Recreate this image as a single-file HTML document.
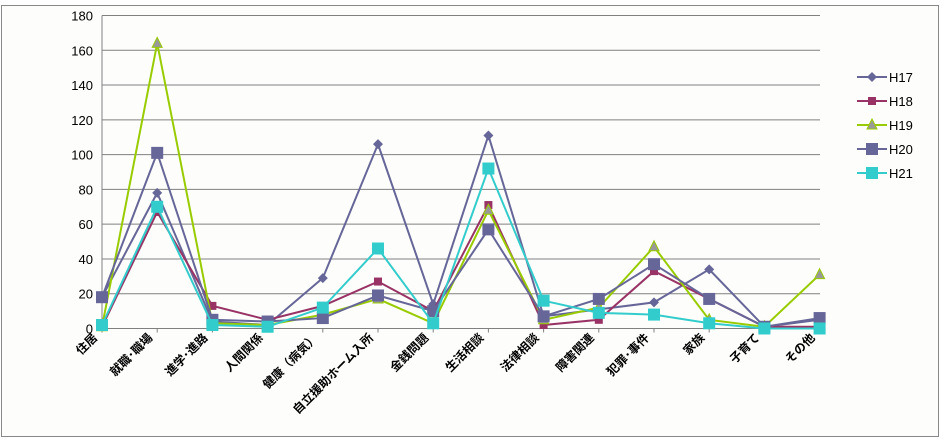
<!DOCTYPE html>
<html><head><meta charset="utf-8"><style>
body{margin:0;background:#fff;}
svg{display:block;font-family:"Liberation Sans","Noto Sans CJK JP",sans-serif;}
</style></head><body>
<svg id="c" width="944" height="442">
<rect x="1.5" y="5.5" width="937" height="431" fill="#fdfefb" stroke="#888"/>
<g id="grid"></g><g id="series"></g><g id="labels"></g>
<g id="legend"></g>
</svg>
<script>
const categories=["住居","就職･職場","進学･進路","人間関係","健康（病気）","自立援助ホーム入所","金銭問題","生活相談","法律相談","障害関連","犯罪･事件","家族","子育て","その他"];
const seriesNames=["H17","H18","H19","H20","H21"];
const h17=[18,78,4,2,29,106,14,111,7,11,15,34,1,5];
const h18=[1,67,13,5,13,27,10,71,2,5,33,17,1,1];
const h19=[1,164,3,2,8,17,3,68,5,12,47,5,1,31];
const h20=[18,101,5,4,6,19,10,57,7,17,37,17,1,6];
const h21=[2,70,2,1,12,46,3,92,16,9,8,3,0,0];
const yTicks=[0,20,40,60,80,100,120,140,160,180];
const NS="http://www.w3.org/2000/svg";
const x0=102,dx=55.2,yb=328.5,yt=15.5,ymax=180;
const X=i=>x0+i*dx, Y=v=>yb-(v/ymax)*(yb-yt);
function el(t,a,p){const e=document.createElementNS(NS,t);for(const k in a)e.setAttribute(k,a[k]);p.appendChild(e);return e;}
const g=document.getElementById('grid'),sg=document.getElementById('series'),lg=document.getElementById('labels'),leg=document.getElementById('legend');
yTicks.forEach(t=>{
 const l=el('line',{x1:x0,x2:820,y1:Y(t),y2:Y(t),stroke:'#808080','stroke-width':1},g);
 
 
 const tx=el('text',{x:93,y:Y(t)+5,'text-anchor':'end','font-size':13,fill:'#000'},g);tx.textContent=t;
 
 
});
el('line',{x1:x0,x2:x0,y1:yt,y2:yb,stroke:'#808080'},g);
categories.forEach((c,i)=>{
 el('line',{x1:X(i),x2:X(i),y1:yb,y2:yb+4,stroke:'#808080'},g);
 const t=el('text',{x:X(i)-4,y:yb+10,'text-anchor':'end','font-size':12,'font-weight':'bold',transform:`rotate(-45 ${X(i)-4} ${yb+10})`},lg);
 t.textContent=c;
 
 
});
const data=[h17,h18,h19,h20,h21];
const colors=['#666699','#993366','#99cc00','#666699','#33cccc'];
const mfill=['#666699','#993366','#999999','#666699','#33cccc'];
const shapes=['diamond','square','triangle','bigsquare','bigsquare'];
function marker(s,cx,cy,fill,p,stroke){
 if(s==='diamond')return el('polygon',{points:`${cx},${cy-5} ${cx+5},${cy} ${cx},${cy+5} ${cx-5},${cy}`,fill},p);
 if(s==='square')return el('rect',{x:cx-4,y:cy-4,width:8,height:8,fill},p);
 if(s==='triangle')return el('polygon',{points:`${cx},${cy-6} ${cx+5},${cy+4} ${cx-5},${cy+4}`,fill,stroke,'stroke-width':1},p);
 return el('rect',{x:cx-6,y:cy-6,width:12,height:12,fill},p);
}
data.forEach((d,si)=>{
 const grp=el('g',{},sg);
 
 
 el('polyline',{points:d.map((v,i)=>X(i)+','+Y(v)).join(' '),fill:'none',stroke:colors[si],'stroke-width':2},grp);
 d.forEach((v,i)=>{
  const m=marker(shapes[si],X(i),Y(v),mfill[si],grp,colors[si]);
  
  
 });
 const ly=77+si*24;
 const le=el('g',{},leg);
 
 
 el('line',{x1:857,x2:887,y1:ly,y2:ly,stroke:colors[si],'stroke-width':2},le);
 marker(shapes[si],872,ly,mfill[si],le,colors[si]);
 const t=el('text',{x:889,y:ly+5,'font-size':13},le);t.textContent=seriesNames[si];
});
</script>
</body></html>
